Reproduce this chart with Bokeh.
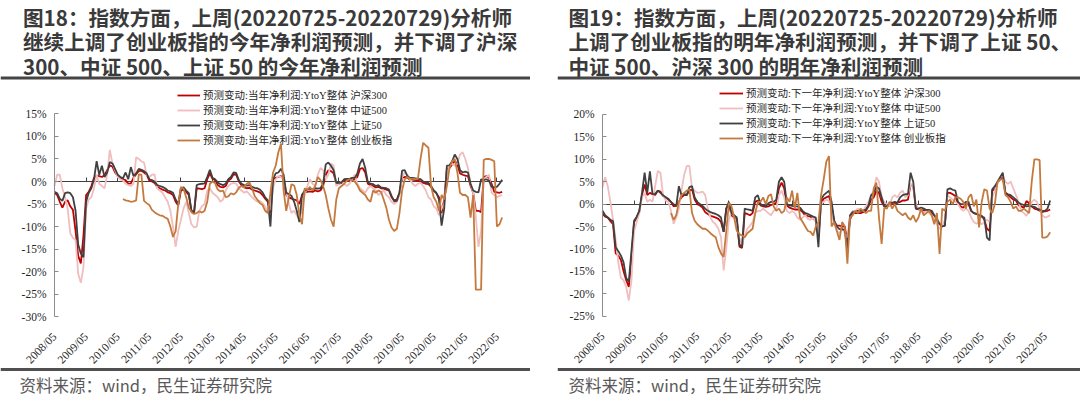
import math
import pandas as pd
from bokeh.plotting import figure
from bokeh.models import (LinearAxis, FixedTicker, PrintfTickFormatter, Span, Label,
                          Legend, LegendItem, Range1d, Spacer)
from bokeh.layouts import row
from bokeh.embed import file_html
from bokeh.resources import INLINE

# ------------------------------------------------------------------ data
FIRST_MONTH = "2008-05"        # first monthly point of every series
CYB_FIRST_MONTH = "2010-07"    # 创业板指 series starts later
TICK_LABELS = ["2008/05", "2009/05", "2010/05", "2011/05", "2012/05", "2013/05", "2014/05",
               "2015/05", "2016/05", "2017/05", "2018/05", "2019/05", "2020/05", "2021/05",
               "2022/05"]
SERIES_NAMES = ["沪深300", "中证500", "上证50", "创业板指"]

# ---- 图18: 当年净利润预测变动 (%), monthly, 2008-05 .. 2022-07
HS300_CUR = [
    -2.5, -3.0, -4.5, -5.8, -4.5, -4.2, -5.5, -6.3,
    -11.0, -16.5, -18.2, -12.0, -3.0, -2.3, -1.0, 0.8, 1.3, 1.2, 1.0, 1.4,
    2.5, 3.6, 3.3, 2.0, 1.2, 0.8, 0.5, 0.3, -0.5, -0.4, 0.8, 1.6,
    2.3, 2.4, 2.0, 1.5, 0.2, 0.0, -0.3, -1.2, -1.5, -1.8, -2.0, -2.4,
    -2.6, -3.0, -4.5, -5.3, -2.0, -1.8, -2.3, -3.0, -6.5, -7.0, -1.5, -1.6,
    -1.7, -1.5, 0.5, 1.8, 0.6, 0.3, -0.8, -1.2, -1.3, -1.0, 0.2, 0.6,
    1.6, 1.5, 0.0, -0.8, -1.3, -1.5, -1.4, -1.8, -2.0, -2.2, -2.4, -3.0,
    -3.8, -4.5, -7.0, 0.5, 0.8, 1.0, 1.2, 0.5, -3.0, -3.5, -3.8, -4.0,
    -4.2, -5.0, -3.0, -2.4, -2.3, -2.2, -2.3, -2.0, -2.2, -2.0, -1.0, 1.5,
    2.5, 2.3, 1.8, -0.5, -0.5, -0.3, 0.2, 0.3, 0.2, 0.5, 0.5, 1.0,
    2.8, 3.0, 2.0, -0.5, -0.8, -1.0, -1.3, -1.2, -1.5, -1.6, -1.8, -2.0,
    -3.5, -4.2, -4.0, -2.5, 0.8, 1.0, 0.9, 0.4, 0.4, 0.3, 0.2, 0.0,
    -0.3, -0.5, -0.6, -1.2, -2.0, -2.6, -3.5, -7.0, -4.0, 2.8, 3.0, 3.8,
    4.6, 3.8, 1.8, 1.5, 1.3, 1.2, -1.0, -2.5, -6.5, -6.5, -6.8, 1.0,
    1.2, 0.8, -0.5, -2.3, -2.4, -2.5, -2.3,
]
ZZ500_CUR = [
    -1.0, 1.5, 1.5, -1.5, -3.5, -6.0, -11.5, -12.5,
    -13.0, -20.5, -22.5, -19.0, -6.0, -4.0, -3.5, -1.5, 1.5, -0.5, -1.0, -1.5,
    1.5, 7.0, 4.0, 2.5, 1.0, 0.5, 0.2, -0.5, -0.8, -1.0, -0.5, 5.4,
    5.0, 4.5, 4.2, 1.5, 1.0, 1.5, 1.6, -1.5, -2.0, -2.5, -3.5, -4.5,
    -6.5, -10.0, -14.5, -11.0, -8.5, -6.0, -4.5, -7.0, -9.5, -10.2, -10.0, -6.5,
    -5.5, -5.0, -2.0, -1.5, -2.5, -3.0, -3.5, -4.5, -4.0, -2.0, -1.0, -0.5,
    -0.3, -0.5, -1.5, -2.0, -2.5, -2.2, -2.8, -3.5, -4.0, -4.5, -4.3, -4.8,
    -5.5, -7.0, -6.0, -1.5, 0.5, 1.2, 1.0, 0.3, -2.0, -5.0, -7.0, -6.5,
    -7.5, -8.5, -6.0, -3.0, -1.0, 0.5, -0.5, -1.0, 1.5, 3.0, 2.5, 0.5,
    1.5, 4.0, 3.5, -1.0, -0.5, 0.0, -0.5, -1.0, -0.5, 0.5, 1.5, -0.5,
    -1.5, -2.0, -2.5, -1.5, -1.0, -1.5, -2.0, -3.0, -2.5, -2.0, -3.0, -3.5,
    -4.5, -5.0, -4.5, -3.0, 1.0, 2.0, 1.5, 0.5, -0.5, -1.0, -0.5, -0.3,
    -1.0, -2.0, -3.5, -4.0, -5.5, -6.0, -7.5, -6.0, -5.0, 2.0, 3.5, 4.0,
    3.5, 4.0, 6.0, 6.5, 5.0, 3.0, -0.5, -2.5, -8.0, -14.5, -11.0, 0.5,
    1.0, 1.5, -2.5, -3.0, -3.5, -3.2, -3.0,
]
SZ50_CUR = [
    -2.3, -2.6, -3.8, -4.3, -2.6, -2.4, -2.6, -3.5,
    -6.5, -14.0, -16.0, -16.8, -4.5, -2.5, -1.5, 0.5, 4.5, 1.5, 3.5, 1.0,
    2.0, 4.3, 4.0, 2.8, 1.5, 1.0, 0.7, 2.0, 0.5, 3.2, 1.2, 1.8,
    2.8, 2.6, 2.3, 1.8, 0.5, 0.3, 0.0, -0.8, -1.0, -1.2, -1.5, -2.0,
    -2.2, -2.5, -4.0, -5.0, -1.5, -1.3, -2.0, -2.6, -6.5, -6.8, -0.8, -0.6,
    -0.5, -0.4, 1.0, 2.6, 0.8, 0.5, -0.2, -0.6, -0.8, -0.5, 0.5, 1.0,
    2.0, 1.9, 0.3, -0.5, -0.8, -0.9, -0.8, -1.2, -1.4, -1.5, -1.8, -2.4,
    -3.5, -4.2, -10.0, 0.5, 1.8, 2.0, 2.8, 1.5, -2.5, -2.8, -3.2, -4.5,
    -6.5, -9.0, -3.0, -2.0, -1.8, -1.6, -1.8, -1.5, -1.6, -1.5, -0.5, 3.8,
    4.2, 3.5, 2.5, -0.3, -0.3, -0.2, 0.5, 0.6, 0.6, 0.8, 0.8, 1.8,
    4.0, 5.0, 3.0, -0.2, -0.5, -0.6, -1.0, -0.8, -1.3, -1.4, -1.5, -1.8,
    -3.2, -4.4, -4.3, -2.5, 2.4, 2.5, 1.2, 0.8, 0.8, 0.7, 0.6, 0.5,
    0.0, -0.2, -0.3, -1.0, -2.0, -2.5, -4.0, -9.8, -6.0, 3.5, 3.6, 4.5,
    6.0, 5.0, 2.5, 2.0, 2.2, 2.0, -0.5, -2.0, -2.3, -2.4, 0.5, 0.3,
    0.5, 0.2, -1.2, -1.3, -1.2, -0.5, 0.4,
]
CYB_CUR = [
    -3.9, -4.2, -4.3, -4.5, -4.4, -4.2,
    1.6, 1.5, -4.3, -4.8, -5.2, -6.3, -6.8, -7.2, -7.5, -7.6, -8.0, -8.3,
    -10.0, -12.3, -11.0, -5.0, -1.2, -1.6, -3.5, -5.8, -6.8, -7.2, -7.0, -6.6,
    -6.9, -6.5, -4.5, -0.5, 0.0, -0.4, -1.8, -2.2, -2.0, -3.5, -3.3, -2.6,
    -2.9, -2.4, -1.4, -1.0, -1.3, -0.5, -0.2, -1.5, -3.2, -4.0, -4.8, -5.2,
    -6.5, -7.0, -2.5, 2.0, 3.5, 6.5, 8.4, -2.0, -6.5, -3.5, -0.6, -0.9,
    -3.0, -7.5, -9.5, -1.5, -1.8, -1.2, -2.0, -1.0, 1.0, 0.3, -1.0, -3.0,
    -6.0, -8.5, -10.0, -4.0, -1.5, -1.0, -0.5, 0.2, 0.5, 0.3, 0.0, -0.8,
    -2.0, -2.5, -3.0, -4.0, -4.5, -2.0, -2.5, -2.0, -2.3, -4.0, -5.8, -8.5,
    -10.2, -11.0, -10.5, -7.0, -2.0, 0.5, 1.0, 0.6, 0.6, 0.5, 0.6, 5.0,
    8.6, 8.0, 7.5, -1.0, -3.5, -4.5, -6.5, -3.0, -4.0, -1.0, 3.0, 4.5,
    5.0, 2.0, -2.5, -3.0, -3.0, -3.5, -8.0, -3.0, -24.0, -24.0, -24.0, 4.8,
    5.0, 5.0, 4.8, 4.5, -10.0, -9.5, -8.0,
]

# ---- 图19: 下一年净利润预测变动 (%), monthly, 2008-05 .. 2022-07
HS300_NEXT = [
    -2.2, -2.8, -3.0, -3.8, -4.5, -11.0, -11.5, -12.5,
    -15.0, -17.0, -18.5, -12.0, -4.0, -3.0, -1.5, 2.0, 4.4, 2.0, 2.5, 2.2,
    2.0, 3.0, 2.8, 1.8, 1.5, 1.0, 0.5, -0.5, -0.3, 0.5, 1.5, 2.0,
    2.0, 3.0, 3.3, 1.0, 0.0, -0.3, -0.8, -1.8, -2.2, -2.6, -2.8, -3.0,
    -3.3, -4.0, -6.2, -1.0, 0.0, -2.5, -3.0, -3.5, -9.5, -9.8, -2.0, -2.2,
    -2.5, -2.0, 0.5, 0.8, -0.3, -0.5, -0.6, -0.5, -0.2, 0.0, 0.3, 3.5,
    4.8, 3.5, -0.3, -0.8, -1.0, -1.2, -1.2, -1.3, -1.8, -2.5, -2.7, -2.8,
    -3.2, -3.7, -7.5, 0.5, 1.2, 1.5, 1.8, -0.5, -4.0, -4.8, -4.8, -5.0,
    -5.0, -8.5, -3.5, -2.0, -2.0, -2.0, -2.0, -1.8, -1.5, -0.5, 1.0, 1.5,
    3.0, 2.5, 0.5, -0.5, -0.5, -0.3, 0.0, 0.0, 0.3, 0.5, 0.8, 0.8,
    1.0, 4.4, 4.0, -1.0, -1.2, -1.3, -1.4, -1.5, -1.6, -1.8, -3.0, -3.8,
    -4.4, -5.0, -4.8, 2.5, 2.5, 2.2, 1.8, 0.0, -0.5, -0.8, 0.0, 0.0,
    -1.5, -2.0, -2.2, -2.5, -2.6, -3.5, -5.5, -6.0, 3.0, 3.3, 4.8, 5.5,
    6.3, 2.5, 2.0, 1.5, 1.0, 0.8, -0.3, -0.5, -0.8, 0.7, 0.2, -0.5,
    -1.0, -1.2, -1.5, -1.8, -1.6, -1.5, -1.2,
]
ZZ500_NEXT = [
    3.7, 6.0, 4.0, 0.5, -3.5, -8.0, -13.0, -16.5,
    -17.0, -18.5, -21.5, -17.0, -6.0, -4.0, -2.0, 1.5, 2.5, 0.5, 1.0, 0.5,
    4.0, 7.4, 7.0, 2.0, 0.8, 0.5, -1.5, -4.4, -3.0, -1.0, 3.0, 6.5,
    8.5, 8.5, 3.5, 3.0, 2.5, 2.6, 2.8, 2.0, -1.0, -3.0, -4.0, -4.5,
    -5.5, -7.4, -14.8, -10.0, -3.5, -1.5, -3.0, -4.5, -7.5, -9.0, -7.0, -5.5,
    -4.8, -4.0, -2.0, -1.5, -1.5, -1.0, -1.5, -2.0, -2.5, -1.5, -1.2, 2.0,
    3.0, 1.5, -1.5, -2.0, -1.5, -2.0, -3.0, -3.5, -3.0, -2.5, -3.3, -3.5,
    -3.0, -4.0, -6.5, 0.0, 0.5, 1.0, 0.7, -1.0, -4.5, -6.0, -6.5, -5.5,
    -6.5, -7.5, -2.5, -1.5, -1.5, -1.0, -1.5, -1.5, -0.5, 0.5, 2.0, 3.0,
    6.0, 5.0, 1.5, 0.5, 0.0, -0.5, 1.5, 2.0, 1.5, 2.5, 3.0, 1.5,
    2.0, 4.5, 4.0, 0.0, -1.0, -1.5, -2.0, -1.5, -2.0, -2.5, -3.0, -4.5,
    -5.5, -5.0, -3.5, 2.0, 1.5, 1.0, 0.5, 0.0, -1.0, -1.5, -1.0, -1.5,
    -3.0, -4.0, -4.4, -4.0, -4.5, -4.0, -3.5, -4.0, 1.5, 3.0, 4.5, 6.0,
    6.3, 5.0, 4.5, 5.0, 3.5, 2.0, 0.5, -1.5, -2.0, -2.6, -1.5, 0.5,
    1.0, 0.5, -1.0, -2.5, -3.0, -2.8, -2.5,
]
SZ50_NEXT = [
    -1.5, -2.5, -3.0, -3.5, -3.8, -9.6, -10.5, -11.5,
    -13.0, -16.5, -17.3, -10.4, -3.7, -2.8, -1.5, 2.5, 7.0, 2.5, 7.3, 2.2,
    2.3, 3.0, 2.5, 2.0, 1.5, 1.2, 0.5, 0.0, -0.5, 4.0, 2.0, 2.3,
    2.0, 3.8, 4.0, 1.5, 0.5, 0.0, -0.4, -1.0, -1.5, -1.8, -2.0, -2.2,
    -2.5, -3.0, -6.2, -1.0, 0.5, -2.0, -2.5, -3.0, -9.0, -9.6, -1.0, -1.2,
    -1.3, -1.5, 1.5, 2.0, 0.0, -0.3, -0.5, 0.2, 0.5, 0.5, 1.0, 5.0,
    6.0, 5.0, 0.0, -0.3, -0.4, -0.5, -0.5, -0.8, -1.5, -2.0, -2.2, -2.5,
    -2.8, -3.0, -9.6, 1.0, 2.0, 2.5, 3.0, 0.5, -3.7, -5.0, -5.6, -5.6,
    -5.8, -10.4, -2.5, -1.8, -1.8, -1.5, -1.5, -1.5, -1.2, -0.3, 2.0, 2.5,
    3.9, 3.5, 1.5, -0.5, -0.5, 0.3, 0.3, 0.5, 0.3, 1.5, 2.0, 2.2,
    2.2, 7.0, 5.0, -1.0, -1.0, -0.8, -1.0, -1.3, -1.3, -1.5, -2.5, -3.3,
    -4.4, -5.0, -4.8, 3.3, 3.5, 3.2, 3.0, 0.5, 0.0, 0.0, 0.5, 0.5,
    -1.5, -2.0, -2.2, -2.5, -2.8, -3.0, -7.5, -8.1, 3.3, 4.0, 5.0, 6.0,
    7.0, 2.5, 2.2, 2.0, 1.5, 1.0, 0.3, 0.0, -0.2, -0.5, -0.4, -0.5,
    -0.6, -1.0, -1.2, -1.5, -1.5, -1.0, 0.8,
]
CYB_NEXT = [
    -2.0, -3.5, -2.5, 0.5, 2.0, 2.5,
    3.0, 3.3, -2.0, -3.7, -4.5, -5.0, -5.5, -5.5, -5.9, -6.5, -7.0, -7.4,
    -9.6, -11.0, -11.8, -6.0, 0.3, -0.5, -3.0, -6.0, -6.7, -7.0, -7.4, -6.5,
    -6.0, -5.5, -2.0, 0.5, 0.5, 1.5, 0.0, 1.8, 2.2, -0.5, -1.5, -1.0,
    -2.0, -1.5, 1.5, 0.5, 3.0, -1.0, 2.5, -3.0, -4.0, -5.0, -6.0, -6.2,
    -7.0, -5.0, -4.0, 2.0, 5.5, 9.5, 10.7, -5.0, -4.0, -6.0, -8.0, -4.0,
    -5.0, -13.3, -3.0, -2.5, -1.5, -2.0, -1.0, -1.5, -2.0, -1.5, -1.5, 3.5,
    4.8, -3.0, -8.9, -0.8, -1.0, 0.5, -1.0, 0.0, -1.5, -2.0, -2.5, -2.0,
    -3.0, -3.5, -2.5, -4.0, -3.0, -1.0, -2.5, -2.0, -1.5, -2.5, -4.5, -2.0,
    -11.1, -1.0, -1.5, 0.5, 1.0, 0.0, 1.5, 1.5, 1.2, 0.5, -1.0, 1.5,
    2.2, -0.5, 1.0, -5.2, 0.5, 3.3, 3.0, -1.0, -2.0, 0.0, 5.0, 5.5,
    5.5, 2.0, 1.5, 0.5, -1.0, -0.5, -1.5, -1.5, -1.0, -1.5, -2.0, 5.0,
    10.0, 10.0, 9.8, -7.5, -7.5, -7.2, -6.3,
]

LEFT_TITLE = ["图18：指数方面，上周(20220725-20220729)分析师",
              "继续上调了创业板指的今年净利润预测，并下调了沪深",
              "300、中证 500、上证 50 的今年净利润预测"]
RIGHT_TITLE = ["图19：指数方面，上周(20220725-20220729)分析师",
               "上调了创业板指的明年净利润预测，并下调了上证 50、",
               "中证 500、沪深 300 的明年净利润预测"]
LEFT_LEGEND_PREFIX = "预测变动:当年净利润:YtoY整体 "
RIGHT_LEGEND_PREFIX = "预测变动:下一年净利润:YtoY整体 "
FOOTER = "资料来源：wind，民生证券研究院"

# ------------------------------------------------------------------ style
COLORS = ["#C00000", "#F0BEBE", "#404040", "#C47A3E"]
SERIF = "'Liberation Serif', 'Noto Sans CJK SC'"
SANS = "Noto Sans CJK SC"
FIG_H = 395
TOP = 0
PX_PER_MONTH = 31.6 / 12

_first = pd.Period(FIRST_MONTH, "M")


def month_index(s):
    return (pd.Period(s.replace("/", "-"), "M") - _first).n


TICK_POS = [month_index(t) for t in TICK_LABELS]
CYB_START = month_index(CYB_FIRST_MONTH)


def make_panel(width, left_pg, axis_px, zero_py, pct_px, ybounds, titles, title_x,
               legend_prefix, legend_left, legend_bottom, glyph_w, footer_x, series):
    def X(px):
        return (px - axis_px) / PX_PER_MONTH

    def Y(py):
        return (zero_py - py) / pct_px

    p = figure(width=width, height=FIG_H,
               x_range=Range1d(X(left_pg), X(left_pg + width)),
               y_range=Range1d(Y(TOP + FIG_H), Y(TOP)),
               x_axis_type=None, y_axis_type=None, toolbar_location=None,
               output_backend="svg", min_border=0)
    p.outline_line_color = None
    p.background_fill_color = "white"
    p.border_fill_color = "white"

    ymin, ymax = ybounds
    n_months = len(series[0][0])

    # zero line with small year ticks
    zax = LinearAxis(fixed_location=0, bounds=(0, n_months - 1),
                     ticker=FixedTicker(ticks=TICK_POS),
                     axis_line_color="#404040", axis_line_width=1,
                     major_tick_line_color="#404040", major_tick_in=4, major_tick_out=0,
                     minor_tick_line_color=None, major_label_text_color=None,
                     level="underlay")
    p.add_layout(zax, "below")

    renderers = []
    for (vals, start), color in zip(series, COLORS):
        xs = list(range(start, start + len(vals)))
        renderers.append(p.line(xs, vals, line_color=color, line_width=1.8))

    # y axis
    yax = LinearAxis(fixed_location=0, bounds=(ymin, ymax),
                     ticker=FixedTicker(ticks=list(range(ymin, ymax + 1, 5))),
                     formatter=PrintfTickFormatter(format="%d%%"),
                     axis_line_color="#8c8c8c", major_tick_line_color="#8c8c8c",
                     major_tick_in=4, major_tick_out=0, minor_tick_line_color=None,
                     major_label_standoff=8, major_label_text_font="Liberation Serif",
                     major_label_text_font_size="11.5px", major_label_text_color="#262626")
    p.add_layout(yax, "left")

    # x labels below the plot
    xax = LinearAxis(fixed_location=ymin, ticker=FixedTicker(ticks=TICK_POS),
                     major_label_overrides={t: lab for t, lab in zip(TICK_POS, TICK_LABELS)},
                     axis_line_color=None, major_tick_line_color=None,
                     minor_tick_line_color=None, major_label_orientation=math.pi / 4,
                     major_label_standoff=12, major_label_text_font="Liberation Serif",
                     major_label_text_font_size="11.5px", major_label_text_color="#262626")
    p.add_layout(xax, "below")

    # legend
    items = [LegendItem(label=legend_prefix + n, renderers=[r])
             for n, r in zip(SERIES_NAMES, renderers)]
    leg = Legend(items=items,
                 location=(legend_left - left_pg, TOP + FIG_H - legend_bottom),
                 orientation="vertical", padding=0, margin=0, spacing=-2,
                 glyph_width=glyph_w, glyph_height=12, label_height=12,
                 label_standoff=3, label_text_font=SERIF, label_text_font_size="10.5px",
                 label_text_color="#262626", border_line_color=None,
                 background_fill_alpha=0)
    p.add_layout(leg)

    # title, rules, footer
    for i, t in enumerate(titles):
        p.add_layout(Label(x=X(title_x), y=Y(16 + 24.6 * i), text=t, text_font=SANS,
                           text_font_style="bold", text_font_size="20.6px",
                           text_color="#3a3a3a", text_baseline="middle", text_align="left"))
    p.add_layout(Span(location=Y(77.5), dimension="width", line_color="#454545", line_width=3))
    p.add_layout(Span(location=Y(369), dimension="width", line_color="#505050", line_width=3))
    p.add_layout(Label(x=X(footer_x), y=Y(384), text=FOOTER, text_font=SANS,
                       text_font_size="16.5px", text_color="#595959",
                       text_baseline="middle", text_align="left"))
    return p


left = make_panel(width=530, left_pg=0, axis_px=54, zero_py=181, pct_px=4.505,
                  ybounds=(-30, 15), titles=LEFT_TITLE, title_x=22.5,
                  legend_prefix=LEFT_LEGEND_PREFIX, legend_left=177, legend_bottom=147.3,
                  glyph_w=23, footer_x=19,
                  series=[(HS300_CUR, 0), (ZZ500_CUR, 0), (SZ50_CUR, 0), (CYB_CUR, CYB_START)])
right = make_panel(width=523, left_pg=557, axis_px=602, zero_py=203.6, pct_px=4.482,
                   ybounds=(-25, 20), titles=RIGHT_TITLE, title_x=568,
                   legend_prefix=RIGHT_LEGEND_PREFIX, legend_left=719, legend_bottom=145.3,
                   glyph_w=24, footer_x=568,
                   series=[(HS300_NEXT, 0), (ZZ500_NEXT, 0), (SZ50_NEXT, 0), (CYB_NEXT, CYB_START)])

layout = row(left, Spacer(width=27, height=FIG_H), right)
open("out.html", "w", encoding="utf-8").write(file_html(layout, INLINE))
